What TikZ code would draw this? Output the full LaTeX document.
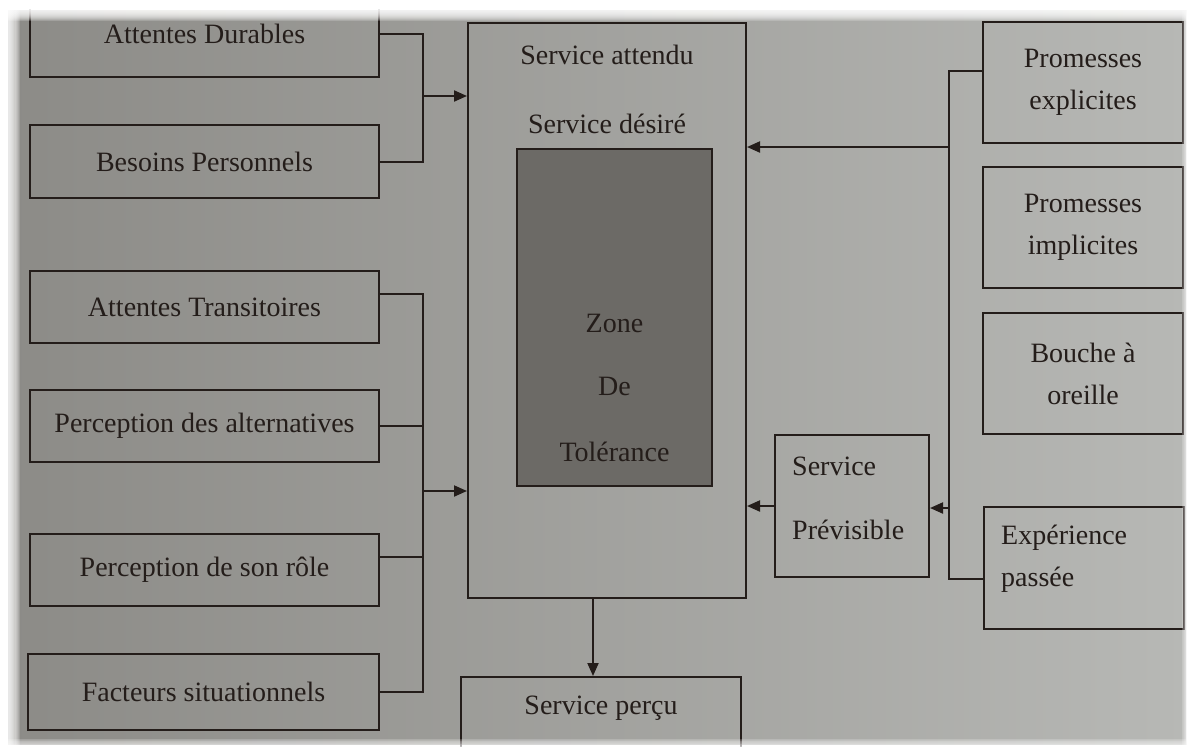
\documentclass[tikz,border=0pt]{standalone}
\usepackage{fontspec}
\setmainfont{Liberation Serif}
\usetikzlibrary{arrows.meta}
\definecolor{paperL}{RGB}{140,139,135}
\definecolor{paperR}{RGB}{183,184,181}
\definecolor{ink}{RGB}{36,29,26}
\definecolor{zonefill}{RGB}{108,106,102}
\newcommand\boxfont{\fontsize{28}{42}\selectfont}

\begin{document}
\begin{tikzpicture}[x=1pt,y=-1pt,
  box/.style={draw=ink, line width=2pt, rectangle, inner sep=0pt,
              text=ink, font=\boxfont, align=center},
  lbl/.style={text=ink, font=\boxfont, inner sep=0pt, align=left},
  link/.style={draw=ink, line width=2pt},
  arr/.style={link, -{Triangle[length=13pt,width=11pt]}}]

% page and paper
\useasboundingbox (0,0) rectangle (1189,747);
\fill[white] (0,0) rectangle (1189,747);
\shade[left color=paperL, right color=paperR] (8,10) rectangle (1186,744);

% left column
\node[box, minimum width=349pt, minimum height=87pt] (dur) at (204.5,33.5) {Attentes Durables};
\node[box, minimum width=349pt, minimum height=73pt] (bes) at (204.5,161.5) {Besoins Personnels};
\node[box, minimum width=349pt, minimum height=72pt] (tra) at (204.5,307) {Attentes Transitoires};
\node[box, minimum width=349pt, minimum height=72pt] (alt) at (204.5,426) {Perception des alternatives};
\node[box, minimum width=349pt, minimum height=72pt] (rol) at (204.5,570) {Perception de son rôle};
\node[box, minimum width=351pt, minimum height=76pt] (fac) at (203.5,692) {Facteurs situationnels};

% central block
\node[box, minimum width=278pt, minimum height=575pt] (main) at (607,310.5) {};
\node[lbl] (att) at (607,55) {Service attendu};
\node[lbl] (des) at (607,124) {Service désiré};
\node[box, fill=zonefill, minimum width=195pt, minimum height=337pt] (zone) at (614.5,317.5) {};
\node[lbl] (z1) at (614.5,323) {Zone};
\node[lbl] (z2) at (614.5,386) {De};
\node[lbl] (z3) at (614.5,452) {Tolérance};
\node[box, minimum width=280pt, minimum height=86pt] (percu) at (601,720) {};
\node[lbl] (pc) at (601,708) {Service perçu};

% right column
\node[box, minimum width=200pt, minimum height=121pt] (pexp) at (1083,82.5) {Promesses\\explicites};
\node[box, minimum width=200pt, minimum height=121pt] (pimp) at (1083,227.5) {Promesses\\implicites};
\node[box, minimum width=200pt, minimum height=121pt] (bou) at (1083,373.5) {Bouche à\\oreille};
\node[box, minimum width=200pt, minimum height=122pt] (exp) at (1084,568) {};
\node[lbl, anchor=west] (ex1) at (1001,538) {Expérience};
\node[lbl, anchor=west] (ex2) at (1001,580) {passée};
\node[box, minimum width=154pt, minimum height=142pt] (prev) at (852,506) {};
\node[lbl, anchor=west] (pv1) at (792,466) {Service};
\node[lbl, anchor=west] (pv2) at (792,530) {Prévisible};

% junction points
\coordinate (jA) at (423,96);
\coordinate (jB) at (423,491);
\coordinate (jC) at (949,147);
\coordinate (jD) at (949,508);
\coordinate (trac) at ([yshift=13pt]tra.east);
\coordinate (rolc) at ([yshift=13pt]rol.east);
\coordinate (pec) at ([yshift=11.5pt]pexp.west);
\coordinate (exc) at ([yshift=-11pt]exp.west);
\coordinate (msc) at ([xshift=-14pt]main.south);

% lasting expectations
\draw[link] (dur.east) -| (jA) |- (bes.east);
\draw[arr] (jA) -- (jA -| main.west);

% transient expectations
\draw[link] (trac) -| (jB) |- (fac.east);
\draw[link] (alt.east) -- (alt.east -| jB);
\draw[link] (rolc) -- (rolc -| jB);
\draw[arr] (jB) -- (jB -| main.west);

% promises and experience
\draw[link] (pec) -| (jC) |- (exc);
\draw[arr] (jC) -- (jC -| main.east);
\draw[arr] (jD) -- (jD -| prev.east);
\draw[arr] (prev.west) -- (prev.west -| main.east);

% perceived service
\draw[arr] (msc) -- (msc |- percu.north);

% soft photo edges
\fill[white] (0,0) rectangle (1189,9);
\fill[white] (0,0) rectangle (6,747);
\foreach \i in {1,...,12} {
  \fill[white, opacity=0.18] (0,0) rectangle (1189,{9+1.0*\i});
  \fill[white, opacity=0.16] (0,0) rectangle ({6+1.2*\i},747);
  \fill[white, opacity=0.10] ({1189-0.6*\i},0) rectangle (1189,747);
  \fill[white, opacity=0.10] (0,{747-0.7*\i}) rectangle (1189,747);
}
\end{tikzpicture}
\end{document}
